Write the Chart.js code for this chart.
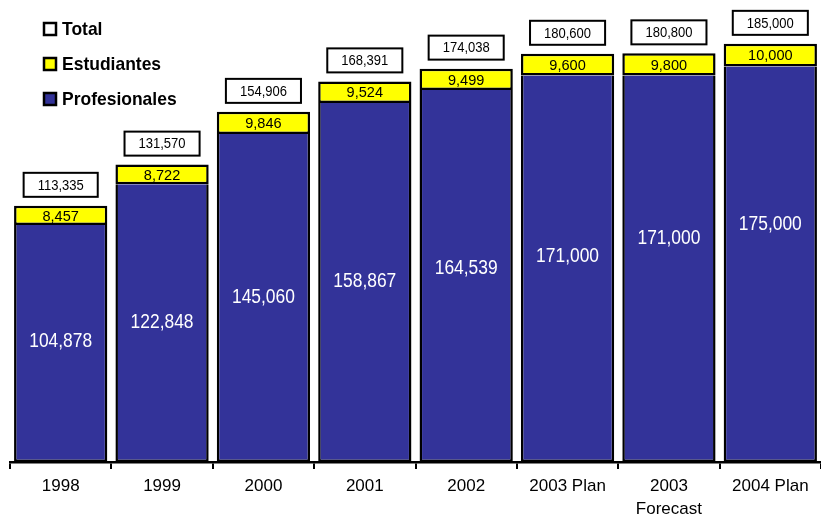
<!DOCTYPE html>
<html>
<head>
<meta charset="utf-8">
<script src="https://cdn.jsdelivr.net/npm/chart.js@4.4.1/dist/chart.umd.min.js"></script>
<style>
  html, body { margin: 0; padding: 0; background: #fff; overflow: hidden; }
  canvas { display: block; }
</style>
</head>
<body>
<canvas id="members" width="821" height="516"></canvas>
<script>
'use strict';

const FONT = '"Liberation Sans", Arial, sans-serif';

const years = ['1998', '1999', '2000', '2001', '2002', '2003 Plan', ['2003', 'Forecast'], '2004 Plan'];
const profesionales = [104878, 122848, 145060, 158867, 164539, 171000, 171000, 175000];
const estudiantes   = [8457, 8722, 9846, 9524, 9499, 9600, 9800, 10000];
const totales       = [113335, 131570, 154906, 168391, 174038, 180600, 180800, 185000];

// how far (px) each white label sits above the middle of its blue block
const labelLift = [2, 1, 1, 1, 8, 12, 30, 40];

const BLUE = '#333399';
const YELLOW = '#ffff00';

function fmt(n) {
  return n.toLocaleString('en-US');
}

// text squeezed horizontally by sx
function squeezed(ctx, txt, x, y, sx) {
  ctx.save();
  ctx.translate(x, y);
  ctx.scale(sx, 1);
  ctx.fillText(txt, 0, 0);
  ctx.restore();
}

// value labels + boxed totals
const valueLabels = {
  id: 'valueLabels',
  afterDatasetsDraw(chart) {
    const ctx = chart.ctx;
    const pro = chart.getDatasetMeta(0).data;
    const est = chart.getDatasetMeta(1).data;
    ctx.save();
    ctx.textAlign = 'center';
    ctx.textBaseline = 'middle';

    pro.forEach((bar, i) => {
      ctx.fillStyle = '#fff';
      ctx.font = '20px ' + FONT;
      squeezed(ctx, fmt(profesionales[i]), bar.x, (bar.y + bar.base) / 2 - labelLift[i], 0.87);
    });

    est.forEach((bar, i) => {
      ctx.fillStyle = '#000';
      ctx.font = '15px ' + FONT;
      squeezed(ctx, fmt(estudiantes[i]), bar.x, (bar.y + bar.base) / 2 + 1, 0.97);

      ctx.font = '14px ' + FONT;
      const txt = fmt(totales[i]);
      const w = ctx.measureText(txt).width * 0.93 + 28;
      const h = 24;
      const bottom = bar.y - 9;
      ctx.fillStyle = '#fff';
      ctx.strokeStyle = '#000';
      ctx.lineWidth = 2;
      ctx.fillRect(bar.x - w / 2, bottom - h, w, h);
      ctx.strokeRect(bar.x - w / 2, bottom - h, w, h);
      ctx.fillStyle = '#000';
      squeezed(ctx, txt, bar.x, bottom - h / 2 + 1, 0.93);
    });
    ctx.restore();
  }
};

// legend in the top-left corner
const cornerLegend = {
  id: 'cornerLegend',
  afterDraw(chart) {
    const ctx = chart.ctx;
    const items = [
      ['Total', '#fff'],
      ['Estudiantes', YELLOW],
      ['Profesionales', BLUE],
    ];
    ctx.save();
    ctx.font = 'bold 19px ' + FONT;
    ctx.textBaseline = 'middle';
    ctx.textAlign = 'left';
    items.forEach(([name, color], i) => {
      const cy = 29 + i * 35;
      ctx.fillStyle = color;
      ctx.fillRect(44, cy - 6, 12, 12);
      ctx.strokeStyle = '#000';
      ctx.lineWidth = 2.5;
      ctx.strokeRect(44, cy - 6, 12, 12);
      ctx.fillStyle = '#000';
      squeezed(ctx, name, 62, cy + 1, 0.92);
    });
    ctx.restore();
  }
};

new Chart(document.getElementById('members'), {
  type: 'bar',
  data: {
    labels: years,
    datasets: [
      {
        label: 'Profesionales',
        data: profesionales,
        backgroundColor: BLUE,
        borderColor: '#000',
        borderWidth: 2.5,
        borderSkipped: 'top',
        barPercentage: 0.92,
        categoryPercentage: 1,
      },
      {
        label: 'Estudiantes',
        data: estudiantes,
        backgroundColor: YELLOW,
        borderColor: '#000',
        borderWidth: 2.5,
        borderSkipped: false,
        barPercentage: 0.92,
        categoryPercentage: 1,
      },
    ],
  },
  options: {
    responsive: false,
    devicePixelRatio: 1,
    animation: false,
    layout: { padding: { left: 10, right: 0, top: 0, bottom: 0 } },
    plugins: {
      legend: { display: false },
      tooltip: { enabled: false },
    },
    scales: {
      x: {
        stacked: true,
        grid: {
          offset: true,
          drawOnChartArea: false,
          drawTicks: true,
          tickLength: 7,
          color: '#000',
          lineWidth: 2,
        },
        border: { display: true, color: '#000', width: 2.5 },
        ticks: {
          color: '#000',
          font: { family: FONT, size: 17, lineHeight: 1.35 },
          padding: 6,
          autoSkip: false,
          maxRotation: 0,
        },
        afterFit(scale) { scale.height = 54; },
      },
      y: {
        stacked: true,
        display: false,
        min: 0,
        max: 204400,
      },
    },
  },
  plugins: [valueLabels, cornerLegend],
});
</script>
</body>
</html>
